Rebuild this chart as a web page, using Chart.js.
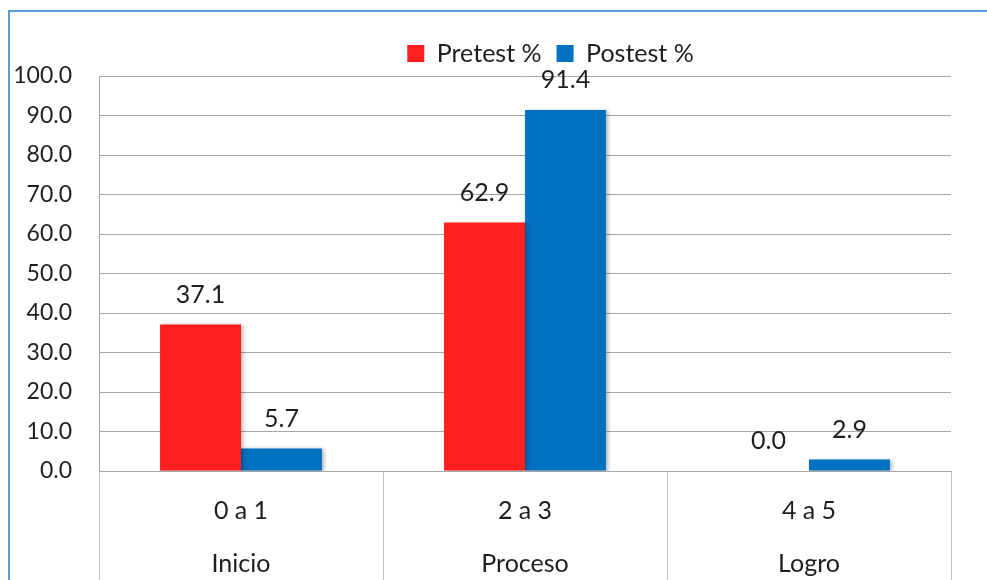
<!DOCTYPE html>
<html>
<head>
<meta charset="utf-8">
<script src="https://cdn.jsdelivr.net/npm/chart.js@4.4.1/dist/chart.umd.min.js"></script>
<style>
	html, body { margin: 0; padding: 0; background: #fff; }
	#wrap { position: relative; width: 987px; height: 580px; }
	#frame { position: absolute; left: 8px; top: 10px; right: 0; bottom: 0; border-left: 2px solid #5B9BD5; border-top: 2px solid #5B9BD5; pointer-events: none; }
</style>
</head>
<body>
<div id="wrap">
	<canvas id="grafico" width="987" height="580"></canvas>
	<div id="frame"></div>
</div>
<script>
// datos del grafico
const rangos = ['0 a 1', '2 a 3', '4 a 5'];
const niveles = ['Inicio', 'Proceso', 'Logro'];
const pretest = [37.1, 62.9, 0.0];
const postest = [5.7, 91.4, 2.9];
const marcasY = [0, 10, 20, 30, 40, 50, 60, 70, 80, 90, 100];

const fuente = "Lato, Carlito, 'Open Sans', sans-serif";
const texto = '#1e1e1e';

// etiquetas encima de las barras + sombra de las barras
const etiquetas = {
	id: 'etiquetas',
	afterLayout(chart) {
		// la leyenda del original esta corrida a la derecha
		chart.legend.left += 75;
		chart.legend.right += 75;
	},
	beforeDatasetsDraw(chart) {
		const ctx = chart.ctx;
		ctx.save();
		ctx.shadowColor = 'rgba(0,0,0,0.3)';
		ctx.shadowBlur = 4;
		ctx.shadowOffsetX = 2;
		ctx.shadowOffsetY = 1;
	},
	afterDatasetsDraw(chart) {
		const ctx = chart.ctx;
		ctx.restore();
		ctx.save();
		ctx.font = '25px ' + fuente;
		ctx.fillStyle = texto;
		ctx.textAlign = 'center';
		ctx.textBaseline = 'middle';
		chart.data.datasets.forEach((ds, i) => {
			chart.getDatasetMeta(i).data.forEach((bar, j) => {
				ctx.fillText(ds.data[j].toFixed(1), bar.x, bar.y - 30);
			});
		});
		ctx.restore();
	}
};

new Chart(document.getElementById('grafico'), {
	type: 'bar',
	data: {
		labels: rangos.map((r, i) => [r, niveles[i]]),
		datasets: [
			{ label: 'Pretest %', data: pretest, backgroundColor: '#FF1F1F' },
			{ label: 'Postest %', data: postest, backgroundColor: '#0070C0' }
		]
	},
	options: {
		responsive: false,
		animation: false,
		devicePixelRatio: 1,
		layout: { padding: { top: 26, right: 36, left: 0, bottom: 0 } },
		datasets: { bar: { categoryPercentage: 0.57, barPercentage: 1 } },
		plugins: {
			legend: {
				position: 'top',
				labels: {
					boxWidth: 17,
					boxHeight: 17,
					padding: 15,
					color: texto,
					font: { family: fuente, size: 25 }
				}
			},
			tooltip: { enabled: false }
		},
		scales: {
			x: {
				afterFit: s => { s.height = 109; },
				grid: { display: true, offset: true, drawOnChartArea: false, drawTicks: true, tickLength: 109, color: '#BFBFBF' },
				border: { display: true, color: '#A6A6A6' },
				ticks: {
					padding: -96,
					maxRotation: 0,
					autoSkip: false,
					color: texto,
					font: { family: fuente, size: 25, lineHeight: 2.12 }
				}
			},
			y: {
				min: 0,
				max: 100,
				afterFit: s => { s.width = 99; },
				afterBuildTicks: s => { s.ticks = marcasY.map(v => ({ value: v })); },
				grid: { color: '#A6A6A6', drawTicks: false },
				border: { display: true, color: '#A6A6A6' },
				ticks: {
					padding: 27,
					color: texto,
					font: { family: fuente, size: 23 },
					callback: v => Number(v).toFixed(1)
				}
			}
		}
	},
	plugins: [etiquetas]
});
</script>
</body>
</html>
